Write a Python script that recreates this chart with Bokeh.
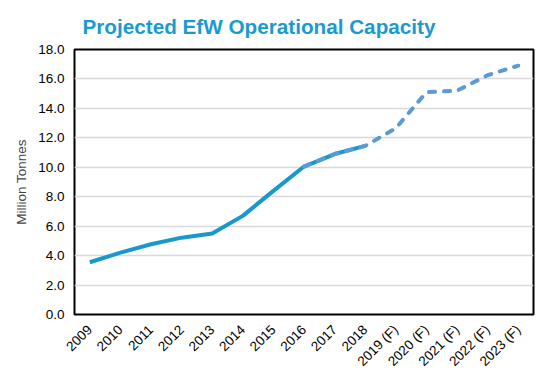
from bokeh.plotting import figure
from bokeh.models import FactorRange, Range1d, FixedTicker, NumeralTickFormatter, Title
from bokeh.embed import file_html
from bokeh.resources import INLINE
import math

years = ["2009", "2010", "2011", "2012", "2013", "2014", "2015", "2016", "2017", "2018",
         "2019 (F)", "2020 (F)", "2021 (F)", "2022 (F)", "2023 (F)"]
actual_years = years[:10]
actual_values = [3.55, 4.2, 4.77, 5.22, 5.5, 6.7, 8.4, 10.05, 10.9, 11.45]
forecast_years = years[7:]
forecast_values = [10.05, 10.9, 11.45, 12.65, 15.1, 15.2, 16.25, 16.9]
y_ticks = [0, 2, 4, 6, 8, 10, 12, 14, 16, 18]

p = figure(x_range=FactorRange(*years, range_padding=0), y_range=Range1d(0, 18),
           width=544, height=377,
           min_border_left=74, min_border_right=11, min_border_top=49, min_border_bottom=63,
           output_backend="svg", toolbar_location=None)

p.add_layout(Title(text="Projected EfW Operational Capacity", align="left", offset=8,
                   text_font="Liberation Sans", text_font_size="20.7px", text_font_style="bold",
                   text_color="#1a9bd0", standoff=24), "above")

p.line(actual_years, actual_values, line_color="#1898cc", line_width=4, line_join="round")
p.line(forecast_years, forecast_values, line_color="#5b9bd5", line_width=4, line_dash="6 9",
       line_cap="round", line_join="round")

p.outline_line_color="black"
p.outline_line_width=2
p.xgrid.grid_line_color=None
p.ygrid.grid_line_color="#d9d9d9"
p.ygrid.grid_line_width=1.5
p.yaxis.ticker = FixedTicker(ticks=y_ticks)
p.yaxis.formatter = NumeralTickFormatter(format="0.0")
for ax in (p.xaxis[0], p.yaxis[0]):
    ax.axis_line_color=None
    ax.major_tick_line_color=None
    ax.minor_tick_line_color=None
    ax.major_tick_in=0
    ax.major_tick_out=0
    ax.major_label_text_font="Liberation Sans"
    ax.major_label_text_font_size="13.5px"
    ax.major_label_text_color="black"
p.yaxis.axis_label="Million Tonnes"
p.yaxis.axis_label_text_font="Liberation Sans"
p.yaxis.axis_label_text_font_size="13.5px"
p.yaxis.axis_label_text_font_style="normal"
p.yaxis.axis_label_standoff=6
p.yaxis.major_label_standoff=10
p.xaxis.major_label_orientation=math.pi/4
p.xaxis.major_label_standoff=13
p.background_fill_color="white"
p.border_fill_color="white"

open("out.html", "w").write(file_html(p, INLINE))
